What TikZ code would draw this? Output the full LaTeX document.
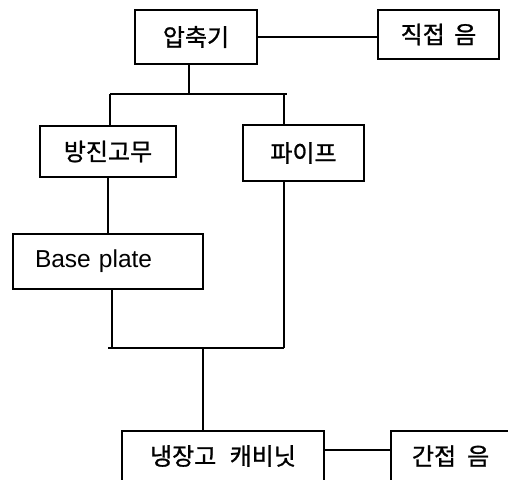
\documentclass[tikz,border=0pt]{standalone}
\usepackage{fontspec}
\setmainfont{Liberation Sans}
\newfontfamily\kfont[FakeBold=1]{Noto Sans CJK KR}
\begin{document}
\begin{tikzpicture}[x=1pt,y=-1pt,
  box/.style={draw, line width=1.6pt, inner sep=0pt, font=\kfont\fontsize{24}{28}\selectfont},
  conn/.style={line width=1.6pt}]
\useasboundingbox (0,0) rectangle (508,479);
\node[box, minimum width=122pt, minimum height=54pt] (comp) at (196,37) {압축기};
\node[box, minimum width=121pt, minimum height=49pt] (direct) at (438.5,34.5) {직접\hspace{4pt} 음};
\node[box, minimum width=136pt, minimum height=51pt] (rubber) at (108,151.5) {방진고무};
\node[box, minimum width=121pt, minimum height=56pt] (pipe) at (303.5,153) {파이프};
\node[box, font=\fontsize{24.5}{28}\selectfont, minimum height=55pt, text width=146pt, inner xsep=22pt, align=left] (base) at (108,261.5) {Base plate};
\node[box, minimum width=202pt, minimum height=50pt] (cab) at (223,456) {냉장고\hspace{8pt} 캐비닛};
\node[box, minimum height=50pt, text width=108pt, inner xsep=21pt, align=left] (indirect) at (466,456) {간접\hspace{3pt} 음};
\coordinate (t1) at (189,94);
\coordinate (tl) at (110,94);
\coordinate (tr) at (287,94);
\coordinate (tp) at (284,94);
\coordinate (bl) at (108,348);
\coordinate (bb) at (112,348);
\coordinate (br) at (284,348);
\coordinate (bm) at (203,348);
\coordinate (ly) at (0,450);
\draw[conn] (comp.east) -- (comp.east -| direct.west);
\draw[conn] (t1 |- comp.south) -- (t1);
\draw[conn] (tl) -- (tr);
\draw[conn] (tl) -- (tl |- rubber.north);
\draw[conn] (tp) -- (tp |- pipe.north);
\draw[conn] (rubber.south) -- (rubber.south |- base.north);
\draw[conn] (bb |- base.south) -- (bb);
\draw[conn] (br |- pipe.south) -- (br);
\draw[conn] (bl) -- (br);
\draw[conn] (bm) -- (bm |- cab.north);
\draw[conn] (cab.east |- ly) -- (indirect.west |- ly);
\end{tikzpicture}
\end{document}
